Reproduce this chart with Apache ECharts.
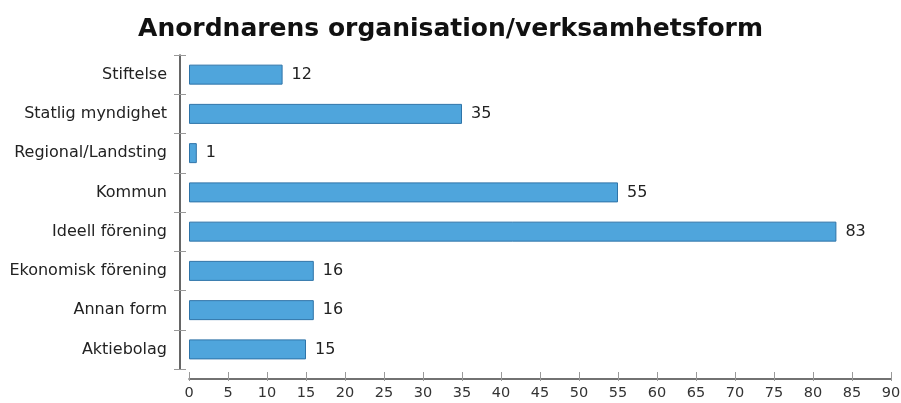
<!DOCTYPE html>
<html><head><meta charset="utf-8">
<script src="https://cdn.jsdelivr.net/npm/echarts@6/dist/echarts.min.js"></script>
<style>html,body{margin:0;padding:0;background:#fff}#c{width:901px;height:403px}</style>
</head><body><div id="c"></div>
<script>
const titleText = 'Anordnarens organisation/verksamhetsform';
const categories = ['Stiftelse','Statlig myndighet','Regional/Landsting','Kommun','Ideell förening','Ekonomisk förening','Annan form','Aktiebolag'];
const values = [12,35,1,55,83,16,16,15];
const xMin = 0, xMax = 90, xStep = 5;

const tickStyle = {color:'#999',width:1};
const chart = echarts.init(document.getElementById('c'));
chart.setOption({
  animation:false,
  backgroundColor:'#fff',
  title:{text:titleText,left:'center',top:12,
    textStyle:{fontFamily:'DejaVu Sans',fontWeight:'bold',fontSize:25,color:'#111'}},
  grid:{left:189,right:10,top:55,bottom:34,containLabel:false,outerBoundsMode:'none'},
  xAxis:[{type:'value',min:xMin,max:xMax,interval:xStep,offset:10,
    axisLine:{show:true,onZero:false,lineStyle:{color:'#444',width:1.5}},
    axisTick:{show:true,inside:false,length:2,lineStyle:tickStyle},
    splitLine:{show:false},
    axisLabel:{fontFamily:'DejaVu Sans',fontSize:14.5,color:'#333',margin:7}},
   {type:'value',min:xMin,max:xMax,interval:xStep,offset:10,position:'bottom',
    axisLine:{show:false},
    axisTick:{show:true,inside:true,length:7,lineStyle:tickStyle},
    splitLine:{show:false},axisLabel:{show:false}}],
  yAxis:[{type:'category',data:categories,inverse:true,offset:9,
    axisLine:{show:true,onZero:false,lineStyle:{color:'#333',width:1.5}},
    axisTick:{show:true,length:6,lineStyle:tickStyle},
    axisLabel:{fontFamily:'DejaVu Sans',fontSize:16,color:'#222',margin:13}},
   {type:'category',data:categories,inverse:true,offset:9,position:'left',
    axisLine:{show:false,onZero:false},
    axisTick:{show:true,inside:true,length:6,lineStyle:tickStyle},
    axisLabel:{show:false}}],
  series:[{type:'bar',data:values,barWidth:20,xAxisIndex:0,yAxisIndex:0,
    itemStyle:{color:'#4FA5DC',borderColor:'#2F74A8',borderWidth:1},
    label:{show:true,position:'right',distance:9,fontFamily:'DejaVu Sans',fontSize:16,color:'#222'}}]
});
</script></body></html>
